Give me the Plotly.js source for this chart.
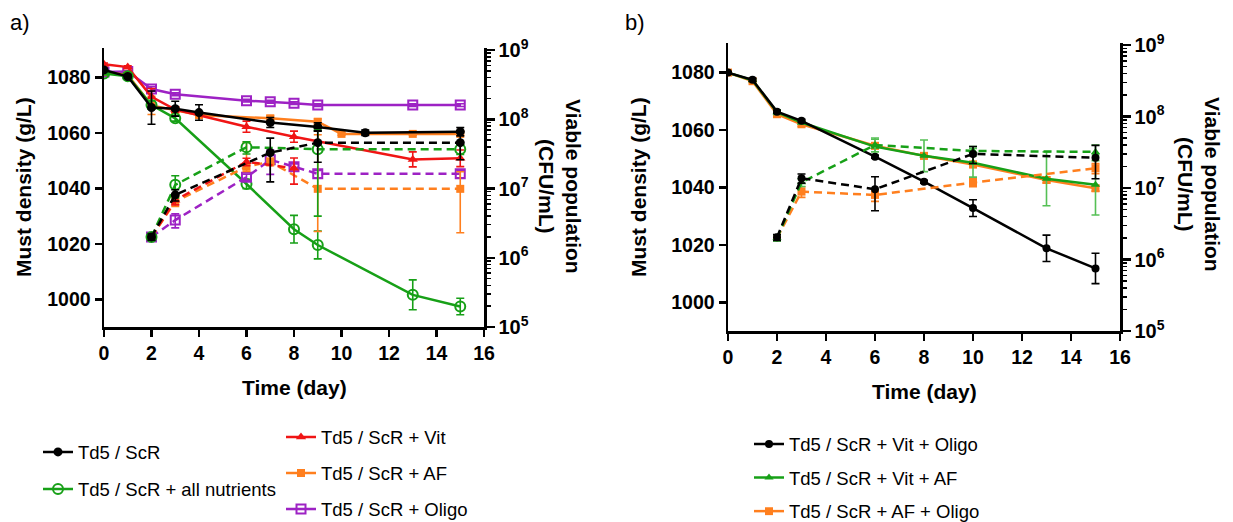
<!DOCTYPE html>
<html><head><meta charset="utf-8">
<script src="https://cdn.plot.ly/plotly-3.0.1.min.js"></script>
<style>html,body{margin:0;padding:0;background:#fff;overflow:hidden}#chart{width:1233px;height:522px}</style>
</head><body><div id="chart"></div>
<script>
// ---------- Data: panel a ----------
const ctrlDays = [0,1,2,3,4,7,9,11,15];
const ctrlDensity = [1082.8,1080.4,1069.2,1068.8,1067.4,1063.8,1062.2,1060.1,1060.5];
const ctrlDensityErr = [0.5,0.5,6,2.7,2.8,1.8,1.5,1,1.5];
const ctrlPopDays = [2,3,7,9,15];
const ctrlPop = [2.0e6,8.1e6,3.3e7,4.6e7,4.6e7];
const ctrlPopErr = [0.2e6,1.5e6,2.05e7,2.2e7,2.0e7];

const allDays = [0,1,2,3,6,8,9,13,15];
const allDensity = [1081.5,1080.5,1070.1,1065.3,1041.6,1025.3,1019.6,1001.6,997.4];
const allDensityErr = [0.5,0.5,1.5,1,1.7,5,5,5.4,3];
const allPopDays = [2,3,6,9,15];
const allPop = [2.0e6,1.13e7,3.95e7,3.7e7,3.7e7];
const allPopErr = [0.2e6,4e6,8e6,3.3e7,6e6];

const vitDays = [0,1,2,3,6,8,13,15];
const vitDensity = [1084.8,1083.8,1073.1,1068.5,1062.3,1058.7,1050.5,1050.9];
const vitDensityErr = [0.5,0.5,3,1,2,2,2.7,3];
const vitPopDays = [2,3,6,8];
const vitPop = [2.0e6,6.8e6,2.44e7,1.96e7];
const vitPopErr = [0.2e6,1e6,3e6,8e6];

const afDays = [0,1,2,3,4,7,9,10,13,15];
const afDensity = [1082,1081,1070,1068.3,1066.5,1065.3,1064.1,1059.7,1059.7,1059.7];
const afDensityErr = [0.5,0.5,3.3,1,1,1,1,0.5,0.5,0.5];
const afPopDays = [2,3,6,7,9,15];
const afPop = [2.0e6,6.5e6,2.07e7,2.44e7,9.9e6,9.9e6];
const afPopErrPlus = [0.2e6,1e6,2.6e7,3e6,5e7,7.6e6];
const afPopErrMinus = [0.2e6,1e6,3e6,3e6,7.5e6,7.6e6];

const oligoDays = [0,1,2,3,6,7,8,9,13,15];
const oligoDensity = [1082,1082.2,1075.9,1074,1071.7,1071.3,1070.8,1070.1,1070.1,1070.1];
const oligoDensityErr = [0.3,0.3,0.8,0.5,0.5,0.5,0.5,0.5,0.5,0.5];
const oligoPopDays = [2,3,6,7,8,9,15];
const oligoPop = [2.0e6,3.5e6,1.46e7,2.6e7,2.07e7,1.63e7,1.63e7];
const oligoPopErr = [0.2e6,0.8e6,1.5e6,1e7,2e6,2e6,2e6];

// ---------- Data: panel b ----------
const vitOligoDays = [0,1,2,3,6,8,10,13,15];
const vitOligoDensity = [1080,1077.5,1066.4,1063.2,1050.7,1042,1032.8,1018.8,1011.8];
const vitOligoDensityErr = [0.3,0.5,0.5,0.5,0.5,0.5,2.9,4.6,5.3];
const vitOligoPopDays = [2,3,6,10,15];
const vitOligoPop = [2.04e6,1.37e7,9.6e6,3.0e7,2.65e7];
const vitOligoPopErr = [0.2e6,2e6,4.8e6,8e6,1.3e7];

const vitAfDays = [0,1,2,3,6,8,10,13,15];
const vitAfDensity = [1080,1077.3,1066.2,1062.6,1054.2,1051,1048.6,1043,1040.9];
const vitAfDensityErr = [0.3,0.3,0.8,0.5,3,5.5,5,9.4,10.5];
const vitAfPopDays = [2,3,6,10,15];
const vitAfPop = [2.0e6,1.2e7,4.0e7,3.3e7,3.2e7];
const vitAfPopErr = [0.2e6,1.5e6,8e6,5e6,8e6];

const afOligoDays = [0,1,2,3,6,8,10,13,15];
const afOligoDensity = [1080,1077,1065.5,1062,1054.5,1051,1048,1042.6,1039.7];
const afOligoDensityErr = [0.3,0.3,0.8,0.8,1,1,1,1,1];
const afOligoPopDays = [2,3,6,10,15];
const afOligoPop = [2.0e6,8.9e6,8.0e6,1.19e7,1.89e7];
const afOligoPopErr = [0.2e6,1.5e6,1.5e6,1.5e6,3e6];

// ---------- Axis tick labels ----------
const xTicks = [0,2,4,6,8,10,12,14,16];
const densTicks = [1000,1020,1040,1060,1080];
const popTicks = [1e5,1e6,1e7,1e8,1e9];
const popTickText = ['10<sup>5</sup>','10<sup>6</sup>','10<sup>7</sup>','10<sup>8</sup>','10<sup>9</sup>'];

const labels = {
  ctrl:'Td5 / ScR', all:'Td5 / ScR + all nutrients', vit:'Td5 / ScR + Vit',
  af:'Td5 / ScR + AF', oligo:'Td5 / ScR + Oligo',
  vitOligo:'Td5 / ScR + Vit + Oligo', vitAf:'Td5 / ScR + Vit + AF', afOligo:'Td5 / ScR + AF + Oligo'
};

// ---------- Styles ----------
const FONT = 'Arial, "Liberation Sans", sans-serif';
const C = {black:'#000000', green:'#17a017', red:'#f01515', orange:'#ff7f1e', purple:'#9d22c4', greenErr:'#55c055'};

function series(o){
  const solid = {
    x:o.days, y:o.dens, type:'scatter', mode:'lines+markers', name:o.name,
    xaxis:o.xa, yaxis:o.yl, legend:o.legend, legendgroup:o.name, showlegend:true,
    line:{color:o.color, width:2.5},
    marker:{symbol:o.sym, size:o.size, color:o.color, line:{color:o.color, width:o.open?2:0}},
    error_y:{type:'data', array:o.densErr, visible:true, color:o.errColor||o.color, thickness:1.6, width:4}
  };
  const ey = o.popErrPlus ? {type:'data', symmetric:false, array:o.popErrPlus, arrayminus:o.popErrMinus}
                          : {type:'data', array:o.popErr};
  Object.assign(ey, {visible:true, color:o.errColor||o.color, thickness:1.6, width:4});
  const dashed = {
    x:o.popDays, y:o.pop, type:'scatter', mode:'lines+markers', name:o.name,
    xaxis:o.xa, yaxis:o.yr, legendgroup:o.name, showlegend:false,
    line:{color:o.color, width:2.5, dash:'8px,5px'},
    marker:{symbol:o.sym, size:o.size, color:o.color, line:{color:o.color, width:o.open?2:0}},
    error_y:ey
  };
  return [dashed, solid];
}

let traces = [];
traces = traces.concat(
  series({days:oligoDays,dens:oligoDensity,densErr:oligoDensityErr,popDays:oligoPopDays,pop:oligoPop,popErr:oligoPopErr,color:C.purple,sym:'square-open',open:true,size:9,name:labels.oligo,legend:'legend2',xa:'x',yl:'y',yr:'y2'}),
  series({days:afDays,dens:afDensity,densErr:afDensityErr,popDays:afPopDays,pop:afPop,popErrPlus:afPopErrPlus,popErrMinus:afPopErrMinus,color:C.orange,sym:'square',size:8,name:labels.af,legend:'legend2',xa:'x',yl:'y',yr:'y2'}),
  series({days:vitDays,dens:vitDensity,densErr:vitDensityErr,popDays:vitPopDays,pop:vitPop,popErr:vitPopErr,color:C.red,sym:'triangle-up',size:9,name:labels.vit,legend:'legend2',xa:'x',yl:'y',yr:'y2'}),
  series({days:allDays,dens:allDensity,densErr:allDensityErr,popDays:allPopDays,pop:allPop,popErr:allPopErr,color:C.green,sym:'circle-open',open:true,size:10,name:labels.all,legend:'legend',xa:'x',yl:'y',yr:'y2'}),
  series({days:ctrlDays,dens:ctrlDensity,densErr:ctrlDensityErr,popDays:ctrlPopDays,pop:ctrlPop,popErr:ctrlPopErr,color:C.black,sym:'circle',size:9,name:labels.ctrl,legend:'legend',xa:'x',yl:'y',yr:'y2'}),
  series({days:afOligoDays,dens:afOligoDensity,densErr:afOligoDensityErr,popDays:afOligoPopDays,pop:afOligoPop,popErr:afOligoPopErr,color:C.orange,sym:'square',size:8,name:labels.afOligo,legend:'legend3',xa:'x2',yl:'y3',yr:'y4'}),
  series({days:vitAfDays,dens:vitAfDensity,densErr:vitAfDensityErr,popDays:vitAfPopDays,pop:vitAfPop,popErr:vitAfPopErr,color:C.green,errColor:C.greenErr,sym:'triangle-up',size:8,name:labels.vitAf,legend:'legend3',xa:'x2',yl:'y3',yr:'y4'}),
  series({days:vitOligoDays,dens:vitOligoDensity,densErr:vitOligoDensityErr,popDays:vitOligoPopDays,pop:vitOligoPop,popErr:vitOligoPopErr,color:C.black,sym:'circle',size:8,name:labels.vitOligo,legend:'legend3',xa:'x2',yl:'y3',yr:'y4'})
);

// legend order
const legendRank = {};
[labels.ctrl,labels.all,labels.vit,labels.af,labels.oligo,labels.vitOligo,labels.vitAf,labels.afOligo].forEach((n,i)=>legendRank[n]=i+1);
traces.forEach(t=>{t.legendrank = legendRank[t.name];});

const minorVals = [];
for (let d=5; d<9; d++) for (let k=2; k<10; k++) minorVals.push(k*Math.pow(10,d));

const tickFont = ()=>({family:FONT, size:19.5, weight:700, color:'#000'});
function xAx(domain, anchor){
  return {domain, anchor, range:[0,16], tickmode:'array', tickvals:xTicks, ticks:'outside', ticklen:7,
    tickwidth:2.5, tickcolor:'#000', showline:true, linewidth:2.5, linecolor:'#000', showgrid:false,
    zeroline:false, tickfont:tickFont(), automargin:false};
}
function yLeft(domain, anchor, range){
  return {domain, anchor, range, tickmode:'array', tickvals:densTicks, ticks:'outside', ticklen:7,
    tickwidth:2.5, tickcolor:'#000', showline:true, linewidth:2.5, linecolor:'#000', showgrid:false,
    zeroline:false, tickfont:tickFont(), automargin:false};
}
function yRight(overlay, anchor, range){
  const f = tickFont(); f.size = 20;
  return {overlaying:overlay, anchor, side:'right', type:'log', range, tickmode:'array', tickvals:popTicks,
    ticktext:popTickText, ticks:'outside', ticklen:8, tickwidth:2.5, tickcolor:'#000', showline:true,
    linewidth:2.5, linecolor:'#000', showgrid:false, zeroline:false, tickfont:f, automargin:false,
    minor:{tickmode:'array', tickvals:minorVals, ticks:'outside', ticklen:4, tickwidth:1.5, tickcolor:'#000', showgrid:false}};
}

const W=1233, H=522;
const px = v=>v/W, py = v=>(H-v)/H;
const titleFont = {family:FONT, size:21, weight:700, color:'#000'};
const legFont = {family:FONT, size:18.5, color:'#000'};
function leg(x, ytop, gap){
  return {x:px(x), y:py(ytop), xanchor:'left', yanchor:'top', font:legFont, bgcolor:'rgba(0,0,0,0)',
    borderwidth:0, tracegroupgap:gap, traceorder:'grouped', itemclick:false};
}
function ann(text, x, y, angle, font){
  return {text, x:px(x), y:py(y), xref:'paper', yref:'paper', xanchor:'center', yanchor:'middle',
    textangle:angle||0, showarrow:false, font};
}

const layout = {
  width:W, height:H, margin:{l:0,r:0,t:0,b:0,pad:0,autoexpand:false}, paper_bgcolor:'#fff', plot_bgcolor:'#fff',
  font:{family:FONT, color:'#000'},
  xaxis: xAx([px(104), px(484)], 'y'),
  yaxis: yLeft([ (H-327)/H, (H-48)/H ], 'x', [990, 1090.7]),
  yaxis2: yRight('y', 'x', [5, 9.03]),
  xaxis2: xAx([px(728), px(1120)], 'y3'),
  yaxis3: yLeft([ (H-331)/H, (H-43)/H ], 'x2', [990, 1090.3]),
  yaxis4: yRight('y3', 'x2', [5, 9.028]),
  legend: leg(38, 433.4, 10),
  legend2: leg(281, 418.4, 9),
  legend3: leg(749, 425.5, 6.5),
  annotations: [
    {text:'a)', x:px(8), y:py(22), xref:'paper', yref:'paper', xanchor:'left', yanchor:'middle', showarrow:false, font:{family:FONT,size:22,color:'#000'}},
    {text:'b)', x:px(623), y:py(22), xref:'paper', yref:'paper', xanchor:'left', yanchor:'middle', showarrow:false, font:{family:FONT,size:22,color:'#000'}},
    ann('Must density (g/L)', 23, 187, -90, titleFont),
    ann('Must density (g/L)', 638, 187, -90, titleFont),
    ann('Time (day)', 294, 387, 0, titleFont),
    ann('Time (day)', 924, 391, 0, titleFont),
    ann('Viable population<br>(CFU/mL)', 560, 186, 90, titleFont),
    ann('Viable population<br>(CFU/mL)', 1199, 184, 90, titleFont)
  ]
};

Plotly.newPlot('chart', traces, layout, {displayModeBar:false, staticPlot:true});
</script></body></html>
